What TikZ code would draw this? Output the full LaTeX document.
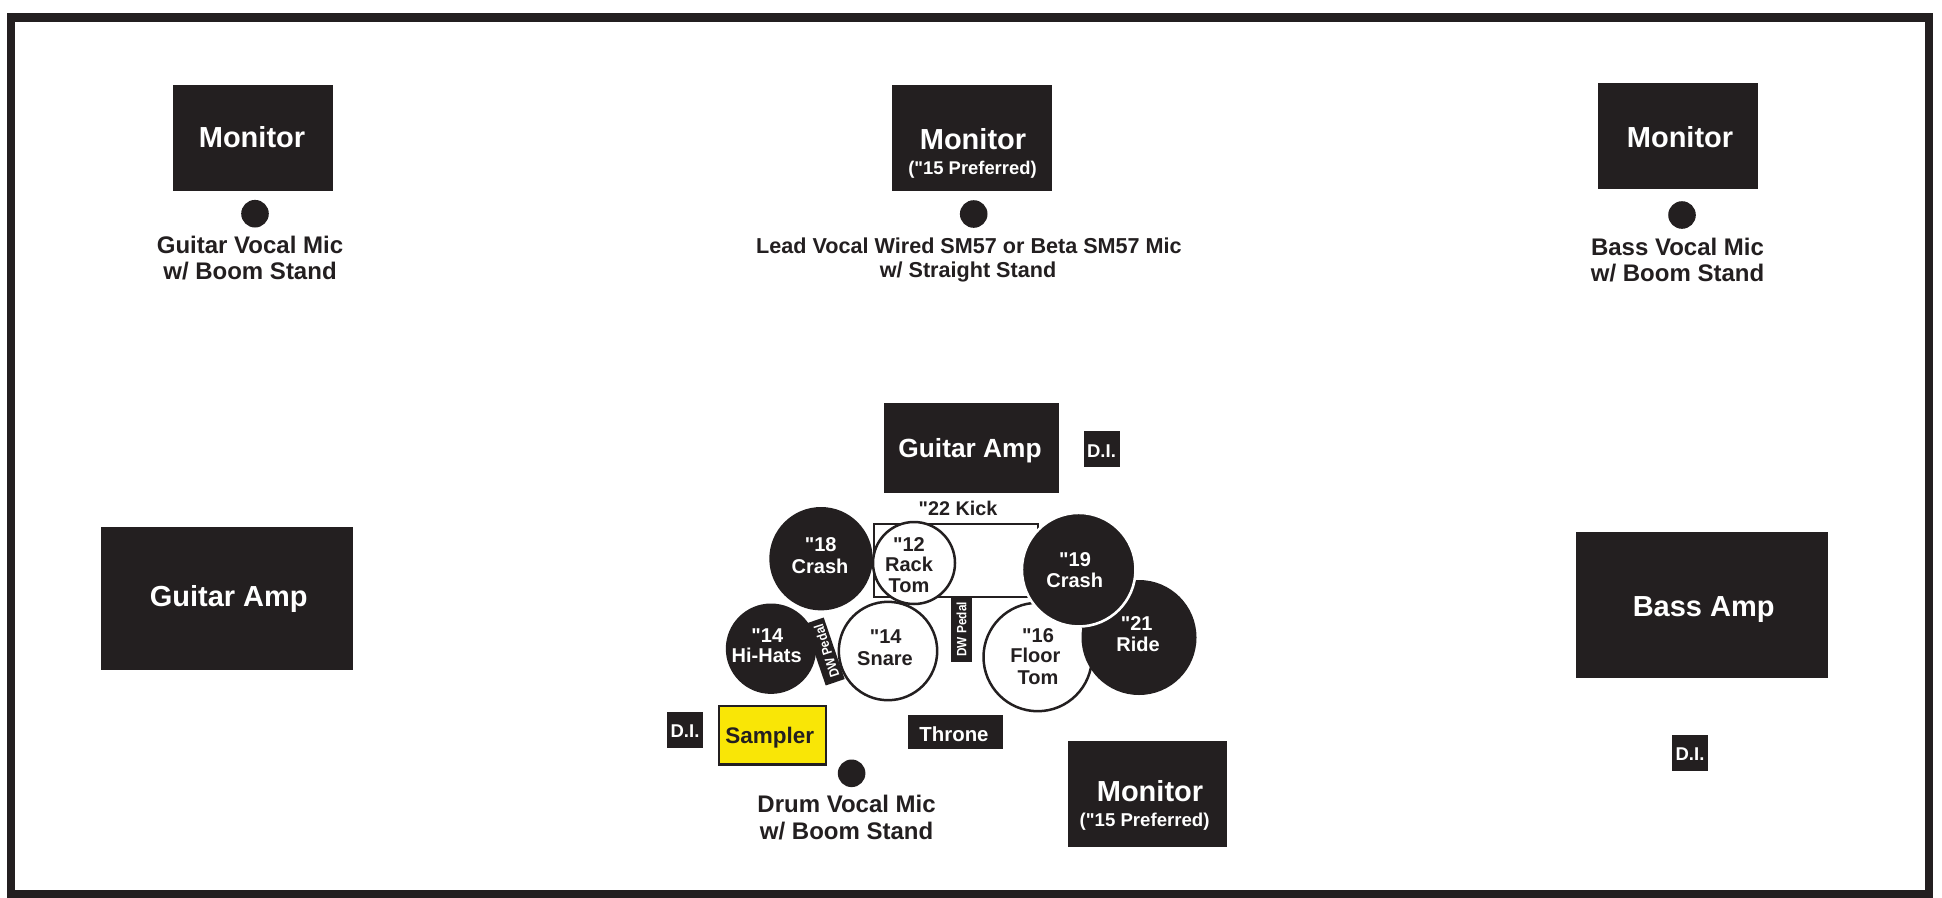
\documentclass[tikz,border=0pt]{standalone}
\usepackage{fontspec}
\setmainfont{Liberation Sans}[BoldFont={Liberation Sans Bold},Ligatures=TeXOff]
\definecolor{ink}{HTML}{231F20}
\definecolor{samplerYellow}{HTML}{F9E606}
\tikzset{
  blockbox/.style={rectangle,fill=ink,draw=none,inner sep=0pt,outer sep=0pt},
  samplerbox/.style={rectangle,fill=samplerYellow,draw=ink,line width=2.5pt,inner sep=0pt,outer sep=0pt},
  darkdisc/.style={circle,fill=ink,draw=none,inner sep=0pt,outer sep=0pt},
  whitedrum/.style={circle,fill=white,draw=ink,line width=2.5pt,inner sep=0pt,outer sep=0pt},
  ringdisc/.style={circle,fill=ink,draw=white,line width=2.6pt,inner sep=0pt,outer sep=0pt},
  lab/.style={anchor=base,inner sep=0pt,outer sep=0pt,font=\bfseries},
}
\newcommand\blk[6][blockbox]{%
  \pgfmathsetmacro\bw{#5-#3}\pgfmathsetmacro\bh{#6-#4}%
  \pgfmathsetmacro\cx{(#3+#5)/2}\pgfmathsetmacro\cy{(#4+#6)/2}%
  \node[#1,minimum width=\bw pt,minimum height=\bh pt] (#2) at (\cx,\cy) {};}
\newcommand\disc[5]{%
  \pgfmathsetmacro\dd{2*#5}%
  \node[#1,minimum size=\dd pt] (#2) at (#3,#4) {};}
\newcommand\lbl[6]{%
  \node[lab,text=#5] (#1) at (#2,#3) {\fontsize{#4}{#4}\selectfont #6};}
\begin{document}
\begin{tikzpicture}[x=1pt,y=-1pt]
\useasboundingbox (0,0) rectangle (1942,897);
\fill[white] (0,0) rectangle (1942,897);
% frame
\draw[ink,line width=8.4pt] (11,17.5) rectangle (1929,894);
% top row
\blk{monA}{173}{85}{333}{191}
\blk{monB}{892}{85}{1052}{191}
\blk{monC}{1598}{83}{1758}{189}
\disc{darkdisc}{micA}{255}{213.7}{13.8}
\disc{darkdisc}{micB}{973.7}{214}{13.8}
\disc{darkdisc}{micC}{1682}{215}{13.8}
% amps
\blk{ampL}{101}{527}{353}{670}
\blk{ampC}{884}{403}{1059}{493}
\blk{ampR}{1576}{532}{1828}{678}
% DI boxes
\blk{diC}{1083.5}{431}{1119.5}{467}
\blk{diL}{667}{712}{703}{748}
\blk{diR}{1672}{735}{1708}{771}
% kick
\draw[ink,line width=2.5pt,line join=miter] (1038,545) -- (1038,524) -- (874.2,524) -- (874.2,597) -- (1038,597);
% pedals
\blk{pedalV}{950.7}{597}{972.3}{661.7}
\node[blockbox,minimum width=65pt,minimum height=20pt,rotate=108.8] (pedalT) at (824.7,651.5) {};
% cymbals and drums
\disc{darkdisc}{crashA}{821}{558.7}{51.7}
\disc{darkdisc}{hats}{771}{648.7}{45.2}
\disc{whitedrum}{snare}{888}{651}{49.2}
\disc{whitedrum}{rack}{914}{563}{41}
\disc{whitedrum}{floor}{1037.7}{657}{54.2}
\disc{darkdisc}{ride}{1139}{637.5}{57.5}
\disc{ringdisc}{crashB}{1078.7}{569.7}{56.8}
% sampler, throne, monitor, mic
\blk[samplerbox]{sampler}{719}{706.2}{825.8}{764.5}
\blk{throne}{908}{715.3}{1003}{749.3}
\blk{monD}{1068}{741}{1227}{847}
\disc{darkdisc}{micD}{851.6}{773.3}{13.8}
% labels
\lbl{tMonA}{252}{147.7}{29}{white}{Monitor}
\lbl{tMonB}{973}{149}{29}{white}{Monitor}
\lbl{tPrefB}{972.5}{174}{18.4}{white}{("15 Preferred)}
\lbl{tMonC}{1680}{147.7}{29}{white}{Monitor}
\lbl{tMicA1}{250}{253}{24}{ink}{Guitar Vocal Mic}
\lbl{tMicA2}{250}{279}{24}{ink}{w/ Boom Stand}
\lbl{tMicB1}{969}{253}{21.6}{ink}{Lead Vocal Wired SM57 or Beta SM57 Mic}
\lbl{tMicB2}{968}{277}{21.6}{ink}{w/ Straight Stand}
\lbl{tMicC1}{1677.5}{255}{24}{ink}{Bass Vocal Mic}
\lbl{tMicC2}{1677.5}{281.7}{24}{ink}{w/ Boom Stand}
\lbl{tAmpL}{228.7}{606.7}{29}{white}{Guitar Amp}
\lbl{tAmpC}{970}{457}{26.3}{white}{Guitar Amp}
\lbl{tAmpR}{1703.7}{616.7}{29}{white}{Bass Amp}
\lbl{tDiC}{1101.5}{457}{18.5}{white}{D.I.}
\lbl{tDiL}{685}{737.3}{18.5}{white}{D.I.}
\lbl{tDiR}{1690}{760.7}{18.5}{white}{D.I.}
\lbl{tKick}{958}{515}{19.8}{ink}{"22 Kick}
\lbl{tCrashA1}{820.7}{551.7}{20}{white}{"18}
\lbl{tCrashA2}{820}{573.3}{20}{white}{Crash}
\lbl{tRack1}{909}{551.3}{20}{ink}{"12}
\lbl{tRack2}{909}{571.7}{20}{ink}{Rack}
\lbl{tRack3}{909}{592}{20}{ink}{Tom}
\lbl{tHats1}{767.3}{642}{20}{white}{"14}
\lbl{tHats2}{766.7}{662.7}{20}{white}{Hi-Hats}
\lbl{tSnare1}{885.7}{643.3}{20}{ink}{"14}
\lbl{tSnare2}{885}{665}{20}{ink}{Snare}
\lbl{tFloor1}{1038}{642}{20}{ink}{"16}
\lbl{tFloor2}{1035.3}{662.7}{20}{ink}{Floor}
\lbl{tFloor3}{1038}{684}{20}{ink}{Tom}
\lbl{tCrashB1}{1075}{566}{20}{white}{"19}
\lbl{tCrashB2}{1074.7}{587.3}{20}{white}{Crash}
\lbl{tRide1}{1136.7}{630}{20}{white}{"21}
\lbl{tRide2}{1138}{651.3}{20}{white}{Ride}
\lbl{tSampler}{769.7}{743.3}{22.5}{ink}{Sampler}
\lbl{tThrone}{954}{741.7}{20.4}{white}{Throne}
\lbl{tMonD}{1150}{801}{29}{white}{Monitor}
\lbl{tPrefD}{1144.6}{826}{18.6}{white}{("15 Preferred)}
\lbl{tMicD1}{846.6}{812.3}{24}{ink}{Drum Vocal Mic}
\lbl{tMicD2}{846.6}{839}{24}{ink}{w/ Boom Stand}
\node[font=\bfseries,text=white,rotate=90,xscale=.875,transform shape,inner sep=0pt] (tPedalV) at (pedalV) {\fontsize{13.5}{14}\selectfont DW Pedal};
\node[font=\bfseries,text=white,rotate=108,xscale=.875,transform shape,inner sep=0pt] (tPedalT) at (826.5,651) {\fontsize{13.5}{14}\selectfont DW Pedal};
\end{tikzpicture}
\end{document}
